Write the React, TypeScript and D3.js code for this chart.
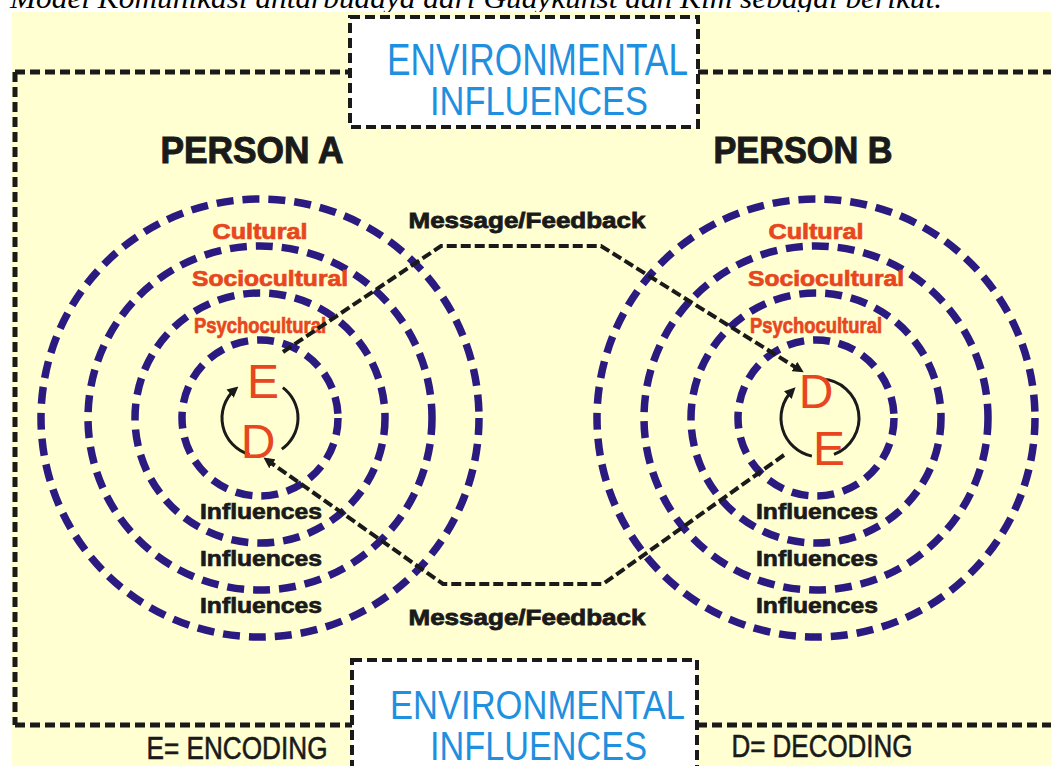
import { useMemo } from "react";
import * as d3 from "d3";

// diagram content
const caption = "Model Komunikasi antarbudaya dari Gudykunst dan Kim sebagai berikut.";
const persons = ["PERSON A", "PERSON B"];
const coreLetters = [["E", "D"], ["D", "E"]];
const ringLevels = [1, 2, 3, 4];
const upperLabels = ["Psychocultural", "Sociocultural", "Cultural"]; // inner -> outer
const lowerLabels = ["Influences", "Influences", "Influences"];
const messageLabel = "Message/Feedback";
const envLines = ["ENVIRONMENTAL", "INFLUENCES"];
const legendItems = ["E= ENCODING", "D= DECODING"];

const W = 1051;
const H = 766;
const CY = 418;
const RED = "#E8461E";
const NAVY = "#2B1A80";
const INK = "#1A1A1A";
const BLUE = "#1F8FE0";
const BOLD = "'Liberation Sans', Arial, sans-serif";

const upperLen = [132, 156, 95];
const personLen = [183, 179];
const legendLen = [181, 181];

export default function App() {
  const x = d3.scalePoint<string>().domain(persons).range([260, 816]);
  const r = d3.scaleLinear().domain([1, 4]).range([78, 219]);
  const mid = (i: number) => (r(ringLevels[i]) + r(ringLevels[i + 1])) / 2;

  const ax = x(persons[0])!;
  const bx = x(persons[1])!;
  const centre = (ax + bx) / 2 - 17;

  const msgTop = useMemo(() => {
    const line = d3.line();
    const yk = CY - r(3);
    return line([
      [ax + 23, CY - 66],
      [centre - 80, yk],
      [centre + 80, yk],
      [bx - 16, CY - 48],
    ]);
  }, [ax, bx]);

  const msgBottom = useMemo(() => {
    const line = d3.line();
    const yk = CY + r(3) - 6;
    return line([
      [bx - 32, CY + 37],
      [centre + 82, yk],
      [centre - 78, yk],
      [ax + 7, CY + 42],
    ]);
  }, [ax, bx]);

  const arc = (cx: number, rad: number, a0: number, a1: number) => {
    const p = d3.path();
    const t0 = (a0 * Math.PI) / 180;
    const t1 = (a1 * Math.PI) / 180;
    p.moveTo(cx + rad * Math.cos(t0), CY + rad * Math.sin(t0));
    p.arc(cx, CY, rad, t0, t1, false);
    return p.toString();
  };

  const cycleArcs = [
    [arc(ax, 38, 106, 229), arc(ax, 38, -53, 55)],
    [arc(bx + 4, 39, 102, 225), arc(bx + 4, 39, -87, 69)],
  ];
  const letterPos = [
    [[3, -20], [-2, 40]],
    [[0, -10], [13, 47]],
  ];

  const dashFrame = { stroke: INK, strokeWidth: 5, strokeDasharray: "10 5", fill: "none" };
  const dashBox = { stroke: INK, strokeWidth: 4, strokeDasharray: "10 5" };

  return (
    <svg width={W} height={H} style={{ position: "absolute", left: 0, top: 0 }}>
      <defs>
        <marker id="arrow" viewBox="0 0 10 10" refX="6" refY="5" markerWidth="11" markerHeight="11"
          markerUnits="userSpaceOnUse" orient="auto">
          <path d="M0,0 L10,5 L0,10 z" fill={INK} />
        </marker>
      </defs>
      <rect width={W} height={H} fill="#ffffff" />
      <text x={10} y={8} fontFamily="'Liberation Serif', serif" fontStyle="italic" fontSize={30}
        textLength={932} lengthAdjust="spacingAndGlyphs" fill="#000">{caption}</text>
      <rect x={12} y={12} width={W - 12} height={H - 12} fill="#FFFFD2" />

      {/* outer frame */}
      <path d={`M15,72 H350 M698,72 H${W} M15,72 V725 M15,725 H352 M697,725 H${W}`} {...dashFrame} />

      {/* environmental boxes */}
      <rect x={350} y={17} width={348} height={110} fill="#fff" {...dashBox} />
      <rect x={352} y={660} width={345} height={130} fill="#fff" {...dashBox} />
      <g fontFamily={BOLD} fill={BLUE} textAnchor="middle">
        <text x={537.5} y={75} fontSize={44} textLength={301} lengthAdjust="spacingAndGlyphs">{envLines[0]}</text>
        <text x={539} y={115} fontSize={40} textLength={218} lengthAdjust="spacingAndGlyphs">{envLines[1]}</text>
        <text x={537.5} y={719} fontSize={41} textLength={295} lengthAdjust="spacingAndGlyphs">{envLines[0]}</text>
        <text x={538.5} y={760} fontSize={40} textLength={217} lengthAdjust="spacingAndGlyphs">{envLines[1]}</text>
      </g>

      {/* legend */}
      <g fontFamily={BOLD} fill={INK} stroke={INK} strokeWidth={0.6} fontSize={32} textAnchor="middle">
        {legendItems.map((d, i) => (
          <text key={d} x={i === 0 ? 237 : 822} y={759 - i * 2} textLength={legendLen[i]} lengthAdjust="spacingAndGlyphs">{d}</text>
        ))}
      </g>

      {persons.map((p, pi) => {
        const cx = x(p)!;
        return (
          <g key={p}>
            <text x={cx - 8 - pi * 5} y={163} fontFamily={BOLD} fontWeight="bold" fontSize={36}
              fill={INK} stroke={INK} strokeWidth={1} textAnchor="middle"
              textLength={personLen[pi]} lengthAdjust="spacingAndGlyphs">{p}</text>
            {ringLevels.map((lv) => (
              <circle key={lv} cx={cx} cy={CY} r={r(lv)} fill="none" stroke={NAVY}
                strokeWidth={7.5} strokeDasharray="17 9" />
            ))}
            <g fontFamily={BOLD} fontWeight="bold" fontSize={22} textAnchor="middle" dominantBaseline="central">
              {upperLabels.map((d, i) => (
                <text key={d} x={cx + (i === 1 ? 10 : 0)} y={CY - mid(i) + 9} fill={RED}
                  stroke={RED} strokeWidth={0.7} textLength={upperLen[i]} lengthAdjust="spacingAndGlyphs">{d}</text>
              ))}
              {lowerLabels.map((d, i) => (
                <text key={i} x={cx + 1} y={CY + mid(i) - 8} fill={INK}
                  stroke={INK} strokeWidth={0.7} textLength={122} lengthAdjust="spacingAndGlyphs">{d}</text>
              ))}
            </g>
            {cycleArcs[pi].map((d, i) => (
              <path key={i} d={d} fill="none" stroke={INK} strokeWidth={3}
                markerEnd={i === 0 ? "url(#arrow)" : undefined} />
            ))}
            {coreLetters[pi].map((l, i) => (
              <text key={l} x={cx + letterPos[pi][i][0]} y={CY + letterPos[pi][i][1]} fontFamily={BOLD}
                fontSize={48} fill={RED} textAnchor="middle">{l}</text>
            ))}
          </g>
        );
      })}

      {/* message / feedback paths */}
      <path d={msgTop ?? ""} fill="none" stroke={INK} strokeWidth={4} strokeDasharray="10 4" markerEnd="url(#arrow)" />
      <path d={msgBottom ?? ""} fill="none" stroke={INK} strokeWidth={4} strokeDasharray="10 4" markerEnd="url(#arrow)" />
      <g fontFamily={BOLD} fontWeight="bold" fontSize={22} fill={INK} stroke={INK} strokeWidth={0.8} textAnchor="middle">
        <text x={527} y={228} textLength={237} lengthAdjust="spacingAndGlyphs">{messageLabel}</text>
        <text x={527} y={625} textLength={237} lengthAdjust="spacingAndGlyphs">{messageLabel}</text>
      </g>
    </svg>
  );
}
